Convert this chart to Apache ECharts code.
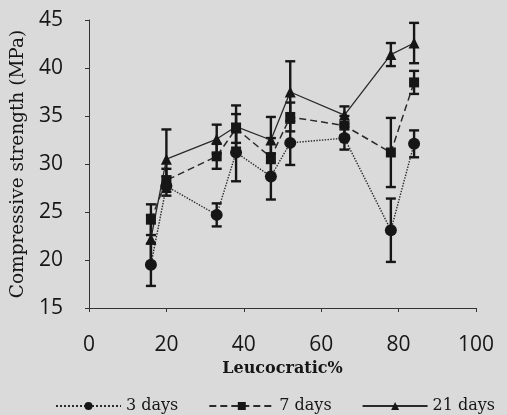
<!DOCTYPE html>
<html>
<head>
<meta charset="utf-8">
<style>html,body{margin:0;padding:0;background:#dadada;}#c{width:507px;height:415px;}</style>
<script src="https://cdn.jsdelivr.net/npm/echarts@6/dist/echarts.min.js"></script>
</head>
<body>
<div id="c"></div>
<script>
var xVals  = [16, 20, 33, 38, 47, 52, 66, 78, 84];
var days3  = [19.5, 27.7, 24.7, 31.2, 28.7, 32.2, 32.7, 23.1, 32.1];
var err3   = [2.2, 1.0, 1.2, 3.0, 2.4, 2.3, 1.2, 3.3, 1.4];
var days7  = [24.2, 28.3, 30.8, 33.7, 30.7, 34.9, 34.0, 31.2, 38.5];
var err7   = [1.6, 1.2, 1.3, 1.5, 2.0, 1.5, 1.0, 3.6, 1.2];
var days21 = [22.2, 30.5, 32.6, 33.9, 32.5, 37.5, 35.1, 41.4, 42.6];
var err21  = [2.5, 3.1, 1.5, 2.2, 2.4, 3.2, 0.9, 1.2, 2.1];
var seriesNames = ['3 days', '7 days', '21 days'];
var xTicks = [0, 20, 40, 60, 80, 100];
var yTicks = [15, 20, 25, 30, 35, 40, 45];

var ink = '#161616';

function pts(vals) { return xVals.map(function (x, i) { return [x, vals[i]]; }); }
function bars(vals, errs) { return xVals.map(function (x, i) { return [x, vals[i] - errs[i], vals[i] + errs[i]]; }); }

function renderBar(params, api) {
  var x = api.value(0), lo = api.value(1), hi = api.value(2);
  var a = api.coord([x, hi]), b = api.coord([x, lo]);
  var w = 5, st = { stroke: ink, lineWidth: 2.4 };
  return { type: 'group', children: [
    { type: 'line', shape: { x1: a[0], y1: a[1], x2: b[0], y2: b[1] }, style: st },
    { type: 'line', shape: { x1: a[0] - w, y1: a[1], x2: a[0] + w, y2: a[1] }, style: st },
    { type: 'line', shape: { x1: b[0] - w, y1: b[1], x2: b[0] + w, y2: b[1] }, style: st }
  ]};
}

function errSeries(vals, errs) {
  return { type: 'custom', renderItem: renderBar, data: bars(vals, errs),
           encode: { x: 0, y: [1, 2] }, z: 1, silent: true };
}

var chart = echarts.init(document.getElementById('c'));
chart.setOption({
  backgroundColor: '#dadada',
  animation: false,
  grid: { left: 89, right: 31, top: 20, bottom: 107 },
  legend: {
    data: seriesNames,
    left: 50, top: 393,
    itemWidth: 65, itemHeight: 10, itemGap: 30,
    textStyle: { fontFamily: 'DejaVu Serif', fontSize: 16, color: ink }
  },
  xAxis: {
    type: 'value', min: 0, max: 100, interval: 20,
    name: 'Leucocratic%', nameLocation: 'middle', nameGap: 44,
    nameTextStyle: { fontFamily: 'DejaVu Serif', fontWeight: 'bold', fontSize: 16, color: ink },
    axisLine: { lineStyle: { color: '#333', width: 1 } },
    axisTick: { show: true, inside: false, length: 4, lineStyle: { color: '#333' } },
    axisLabel: { fontFamily: 'Open Sans', fontSize: 21, color: ink, margin: 27,
      formatter: function (v) { return xTicks.indexOf(v) >= 0 ? String(v) : ''; } },
    splitLine: { show: false }
  },
  yAxis: {
    type: 'value', min: 15, max: 45, interval: 5,
    name: 'Compressive strength (MPa)', nameLocation: 'middle', nameGap: 51, nameRotate: 90,
    nameTextStyle: { fontFamily: 'DejaVu Serif', fontSize: 18.5, color: ink },
    axisLine: { show: true, lineStyle: { color: '#333', width: 1 } },
    axisTick: { show: true, inside: false, length: 4, lineStyle: { color: '#333' } },
    axisLabel: { fontFamily: 'Open Sans', fontSize: 21, color: ink, margin: 26,
      formatter: function (v) { return yTicks.indexOf(v) >= 0 ? String(v) : ''; } },
    splitLine: { show: false }
  },
  series: [
    errSeries(days3, err3),
    errSeries(days7, err7),
    errSeries(days21, err21),
    { name: seriesNames[0], type: 'line', data: pts(days3), z: 3,
      symbol: 'circle', symbolSize: 12,
      itemStyle: { color: ink },
      lineStyle: { color: '#2a2a2a', width: 1.4, type: 'dotted' } },
    { name: seriesNames[1], type: 'line', data: pts(days7), z: 3,
      symbol: 'rect', symbolSize: 10,
      itemStyle: { color: ink },
      lineStyle: { color: '#2a2a2a', width: 1.5, type: [7, 4] } },
    { name: seriesNames[2], type: 'line', data: pts(days21), z: 3,
      symbol: 'triangle', symbolSize: 11,
      itemStyle: { color: ink },
      lineStyle: { color: '#2a2a2a', width: 1.3, type: 'solid' } }
  ]
});
</script>
</body>
</html>
